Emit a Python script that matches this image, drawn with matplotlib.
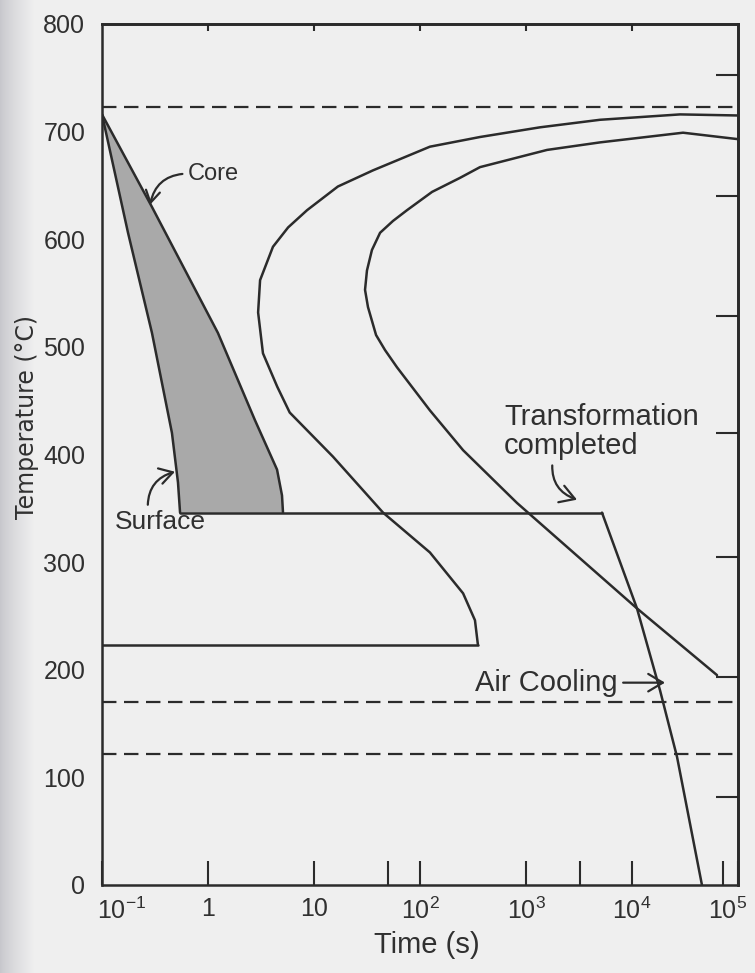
import numpy as np
import matplotlib
matplotlib.use("Agg")
import matplotlib.pyplot as plt
from matplotlib.ticker import FixedLocator, NullFormatter, NullLocator
from matplotlib.transforms import ScaledTranslation

SANS = ["Liberation Sans", "DejaVu Sans"]
plt.rcParams["font.family"] = SANS
plt.rcParams["mathtext.fontset"] = "custom"
plt.rcParams["mathtext.rm"] = "Liberation Sans"
plt.rcParams["mathtext.it"] = "Liberation Sans:italic"
plt.rcParams["mathtext.bf"] = "Liberation Sans:bold"

# ---- data: time (s) and temperature (degC) ----
# transformation start curve (upper-left C curve), from long times to its foot
start_time = [1.0e5, 2.84e4, 4990, 1355, 368, 124, 36, 16.8, 8.6, 5.7, 4.1, 3.1,
              2.97, 3.3, 4.5, 5.9, 15.1, 44.8, 124, 255, 330, 352]
start_temp = [715, 716, 711, 704, 695, 686, 664, 649, 627, 611, 593, 562,
              532, 494, 463, 439, 398, 346, 309, 271, 246, 223]

# transformation completed curve (right C curve)
finish_time = [1.0e5, 3.03e4, 4990, 1580, 368, 238, 130, 75.4, 55.6, 42, 35.2,
               31.6, 30.3, 32.3, 38.5, 46.8, 60.7, 124, 255, 822, 11140, 63400]
finish_temp = [693, 699, 690, 683, 667, 657, 644, 627, 617, 606, 590,
               571, 553, 537, 511, 497, 481, 441, 404, 355, 257, 195]

# quench curves of the core and the surface
core_time = [0.1, 0.296, 1.24, 2.77, 4.48, 4.99, 5.1]
core_temp = [716, 630, 513, 432, 386, 362, 346]
surface_time = [0.1, 0.176, 0.296, 0.457, 0.521, 0.545]
surface_temp = [716, 606, 513, 420, 374, 346]

# isothermal hold in the bainite range, then air cooling
hold_temp = 346
hold_time = [0.545, 5210]
air_time = [5210, 11140, 18370, 26600, 45700]
air_temp = [346, 257, 181, 119, 0]

# martensite start line ending at the foot of the start curve
ms_temp = 223
ms_time = [0.1, 352]

# dashed reference temperatures
a1_temp = 723
dashed_low = [170, 122]

x_major = [0.1, 1, 10, 100, 1000, 1e4, 1e5]
x_labels = [r"$10^{-1}$", "1", "10", r"$10^{2}$", r"$10^{3}$", r"$10^{4}$", r"$10^{5}$"]
x_extra = [50, 3230, 72000]
top_ticks = [1, 10, 100, 1000, 1e4]
y_ticks = [0, 100, 200, 300, 400, 500, 600, 700, 800]
y_marks = [100, 200, 300, 400, 500, 600]
right_marks = [82, 193, 305, 420, 529, 640, 753]

INK = "#2b2b2b"
TXT = "#303030"
PAPER = "#efefef"
LW = 1.8

fig = plt.figure(figsize=(7.55, 9.73), dpi=100, facecolor=PAPER)

# soft shadow along the left edge of the page
shade = fig.add_axes([0, 0, 34 / 755, 1], zorder=-5)
paper_rgb = np.array(matplotlib.colors.to_rgb(PAPER))
edge_rgb = np.array([0.78, 0.78, 0.80])
w = np.linspace(0, 1, 80) ** 0.8
strip = edge_rgb[None, :] * (1 - w[:, None]) + paper_rgb[None, :] * w[:, None]
shade.imshow(strip[None, :, :], aspect="auto", extent=[0, 1, 0, 1],
             interpolation="bilinear")
shade.set_axis_off()

ax = fig.add_axes([102 / 755, 1 - 885 / 973, 636 / 755, 861 / 973])
ax.set_facecolor("none")
ax.set_xscale("log")
ax.set_xlim(0.1, 1e5)
ax.set_ylim(0, 800)

line_kw = dict(color=INK, lw=LW, zorder=3, solid_joinstyle="round",
               solid_capstyle="round")

# shaded band between surface and core cooling
band_x = list(surface_time) + list(core_time[::-1])
band_y = list(surface_temp) + list(core_temp[::-1])
ax.fill(band_x, band_y, color="#a9a9a9", lw=0, zorder=1)
ax.plot(core_time, core_temp, **line_kw)
ax.plot(surface_time, surface_temp, **line_kw)

ax.plot(start_time, start_temp, **line_kw)
ax.plot(finish_time, finish_temp, **line_kw)
ax.plot(hold_time, [hold_temp, hold_temp], **line_kw)
ax.plot(air_time, air_temp, **line_kw)
ax.plot(ms_time, [ms_temp, ms_temp], **line_kw)

dash = (0, (6.5, 3.4))
ax.axhline(a1_temp, color=INK, lw=1.6, ls=dash, zorder=2)
for t in dashed_low:
    ax.axhline(t, color=INK, lw=1.6, ls=dash, zorder=2)

# axes frame and ticks
for s in ax.spines.values():
    s.set_linewidth(1.8)
    s.set_color(INK)

ax.xaxis.set_major_locator(FixedLocator(x_major))
ax.xaxis.set_minor_locator(FixedLocator(x_extra))
ax.set_xticklabels(x_labels)
ax.xaxis.set_minor_formatter(NullFormatter())
ax.tick_params(axis="x", which="both", direction="in", length=17, width=1.5,
               color=INK, labelsize=18, labelcolor=TXT, pad=9, top=False)

ax.set_yticks(y_ticks)
ax.yaxis.set_minor_locator(FixedLocator(y_marks))
ax.tick_params(axis="y", which="major", length=0, labelsize=18,
               labelcolor=TXT, pad=12, right=False)
ax.tick_params(axis="y", which="minor", direction="in", length=11, width=1.5,
               color=INK, right=False)

# nudge the two end labels so they sit inside the frame
xl = ax.get_xticklabels()
xl[0].set_transform(xl[0].get_transform() + ScaledTranslation(20 / 100, 0, fig.dpi_scale_trans))
xl[-1].set_transform(xl[-1].get_transform() + ScaledTranslation(-10 / 100, 0, fig.dpi_scale_trans))

top = ax.secondary_xaxis("top")
top.xaxis.set_major_locator(FixedLocator(top_ticks))
top.xaxis.set_minor_locator(NullLocator())
top.set_xticklabels([])
top.tick_params(direction="in", length=5, width=1.5, color=INK)
top.spines["top"].set_linewidth(1.8)

right = ax.secondary_yaxis("right")
right.yaxis.set_major_locator(FixedLocator(right_marks))
right.yaxis.set_minor_locator(NullLocator())
right.set_yticklabels([])
right.tick_params(direction="in", length=16, width=1.5, color=INK)
right.spines["right"].set_linewidth(1.8)

ax.set_xlabel("Time (s)", fontsize=21, color=TXT, va="center")
ax.xaxis.set_label_coords(0.511, -0.0697)
ax.set_ylabel("Temperature (\u00b0C)", fontsize=17, color=TXT,
              family=["DejaVu Sans"], va="center", ha="center")
ax.yaxis.set_label_coords(-0.118, 0.5436)

arrow = dict(arrowstyle="->,head_length=0.5,head_width=0.3", color=INK, lw=1.6,
             shrinkA=2, shrinkB=0)

ax.annotate("Core", xy=(0.284, 632), xytext=(0.647, 661), fontsize=17,
            color=TXT, ha="left", va="center",
            arrowprops=dict(arrow, connectionstyle="arc3,rad=0.4",
                            relpos=(0, 0.5)))
ax.annotate("Surface", xy=(0.488, 384), xytext=(0.133, 337), fontsize=19,
            color=TXT, ha="left", va="center",
            arrowprops=dict(arrow, connectionstyle="arc3,rad=-0.4",
                            relpos=(0.36, 1)))
ax.annotate("Transformation\ncompleted", xy=(3030, 358), xytext=(620, 395),
            fontsize=21, color=TXT, ha="left", va="bottom",
            linespacing=1.05,
            arrowprops=dict(arrow, connectionstyle="arc3,rad=0.4",
                            relpos=(0.25, 0)))
ax.annotate("Air Cooling", xy=(20470, 188), xytext=(330, 188), fontsize=21,
            color=TXT, ha="left", va="center",
            arrowprops=dict(arrow, relpos=(1, 0.5)))

fig.savefig("out.png", dpi=100, facecolor=PAPER)
